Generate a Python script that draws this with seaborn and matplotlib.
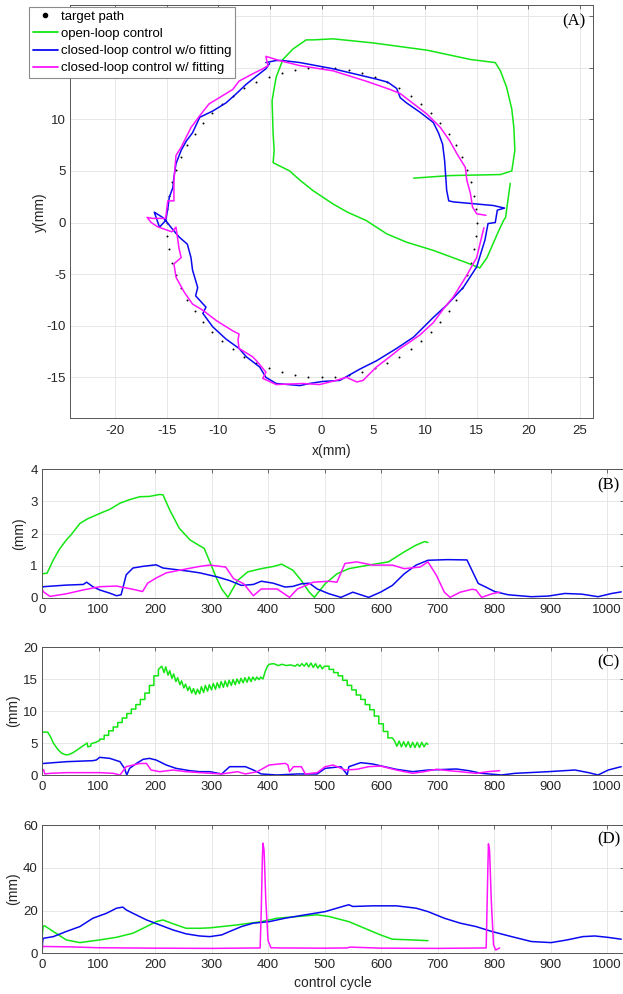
import matplotlib
matplotlib.use("Agg")
import matplotlib.pyplot as plt
from matplotlib.lines import Line2D
import numpy as np
import pandas as pd
import seaborn as sns

# ---------------- data : panel A (trajectories, mm) ----------------
target_x = [15.00, 14.94, 14.77, 14.49, 14.10, 13.59, 12.99, 12.29, 11.49, 10.61, 9.64, 8.60, 7.50, 6.34, 5.13, 3.88, 2.60, 1.31,
            0.00, -1.31, -2.60, -3.88, -5.13, -6.34, -7.50, -8.60, -9.64, -10.61, -11.49, -12.29, -12.99, -13.59, -14.10, -14.49, -14.77, -14.94,
            -15.00, -14.94, -14.77, -14.49, -14.10, -13.59, -12.99, -12.29, -11.49, -10.61, -9.64, -8.60, -7.50, -6.34, -5.13, -3.88, -2.60, -1.31,
            0.00, 1.31, 2.60, 3.88, 5.13, 6.34, 7.50, 8.60, 9.64, 10.61, 11.49, 12.29, 12.99, 13.59, 14.10, 14.49, 14.77, 14.94]
target_y = [0.00, 1.31, 2.60, 3.88, 5.13, 6.34, 7.50, 8.60, 9.64, 10.61, 11.49, 12.29, 12.99, 13.59, 14.10, 14.49, 14.77, 14.94,
            15.00, 14.94, 14.77, 14.49, 14.10, 13.59, 12.99, 12.29, 11.49, 10.61, 9.64, 8.60, 7.50, 6.34, 5.13, 3.88, 2.60, 1.31,
            0.00, -1.31, -2.60, -3.88, -5.13, -6.34, -7.50, -8.60, -9.64, -10.61, -11.49, -12.29, -12.99, -13.59, -14.10, -14.49, -14.77, -14.94,
            -15.00, -14.94, -14.77, -14.49, -14.10, -13.59, -12.99, -12.29, -11.49, -10.61, -9.64, -8.60, -7.50, -6.34, -5.13, -3.88, -2.60, -1.31]

open_x = [18.25, 17.8, 17.6, 17.0, 16.0, 15.3, 14.05, 10.8, 8.2, 6.3, 4.3, 2.5, 1.1, -0.85, -2.1, -3.1, -4.7, -4.6, -4.7,
          -4.8, -4.6, -4.4, -3.75, -2.8, -1.5, -0.8, 1.1, 5.0, 10.2, 14.4, 16.8, 17.3, 17.9, 18.4, 18.6, 18.7, 18.4, 17.3, 12.4, 8.9]
open_y = [3.8, 0.5, 0.2, -1.1, -3.4, -4.4, -3.9, -2.7, -1.9, -1.1, 0.2, 1.0, 1.8, 3.1, 4.1, 5.0, 5.8, 7.0, 8.6,
          11.8, 13.0, 14.1, 15.8, 16.8, 17.7, 17.7, 17.8, 17.4, 16.7, 15.8, 15.5, 14.7, 13.1, 11.0, 9.2, 7.0, 5.0, 4.65, 4.55, 4.3]

nofit_x = [-5.4, -4.4, -3.8, -2.1, 1.1, 5.3, 6.4, 7.25, 7.6, 8.2, 9.5, 10.8, 11.3, 11.7, 11.9, 12.1, 12.3, 12.75, 16.6, 17.7,
           17.0, 16.8, 16.1, 15.8, 15.0, 13.7, 12.1, 10.8, 8.9, 7.25, 5.3, 3.7, 1.75, 0.1, -1.2, -2.1, -4.4, -5.4, -6.0, -7.3,
           -8.0, -9.25, -10.55, -11.5, -11.2, -12.2, -12.0, -12.5, -12.65, -13.0, -13.8, -14.6, -15.1, -15.7, -16.2, -15.4, -15.1,
           -14.9, -14.75, -14.4, -14.3, -14.1, -13.6, -13.1, -12.5, -11.8, -10.55, -9.25, -8.3, -7.3, -6.3, -5.4, -5.05]
nofit_y = [15.5, 15.7, 15.7, 15.5, 14.9, 13.9, 13.6, 13.0, 12.1, 11.6, 10.7, 9.7, 8.7, 7.6, 6.0, 3.1, 2.1, 2.0, 1.65, 1.4,
           1.2, 0.0, -0.1, -1.7, -4.3, -6.3, -8.0, -9.2, -11.1, -12.2, -13.4, -14.2, -15.3, -15.4, -15.6, -15.8, -15.6, -15.0, -14.0, -13.0,
           -12.2, -11.3, -10.1, -8.8, -8.2, -7.1, -6.3, -4.6, -3.4, -2.1, -1.4, -0.45, 0.2, -0.45, 1.0, 0.5, 0.2,
           1.3, 2.45, 3.4, 4.4, 5.7, 7.0, 7.9, 8.7, 10.2, 10.8, 11.6, 12.45, 13.4, 14.2, 14.9, 15.4]

fit_x = [15.7, 15.0, 14.05, 12.75, 11.8, 10.8, 9.5, 8.5, 7.6, 6.6, 5.3, 4.7, 4.0, 3.4, 2.4, 1.4, -0.2, -1.8, -4.4, -5.7,
         -5.4, -6.3, -6.7, -8.0, -8.1, -8.0, -8.6, -10.2, -11.5, -12.5, -13.3, -14.1, -14.3, -13.6, -13.8, -14.1, -14.5, -15.9,
         -16.5, -16.9, -16.4, -15.1, -14.9, -14.3, -14.3, -14.1, -13.6, -13.3, -12.65, -11.8, -10.9, -9.9, -8.6, -8.0, -6.7, -5.7,
         -5.2, -5.4, -4.1, -2.1, 1.1, 4.3, 6.6, 7.6, 8.9, 10.2, 11.5, 12.4, 13.1, 13.9, 14.05, 14.4, 14.6, 15.0, 15.9]
fit_y = [-0.5, -3.4, -5.1, -7.2, -8.35, -9.7, -10.9, -11.6, -12.2, -13.0, -14.0, -14.6, -15.3, -15.45, -15.0, -15.3, -15.7, -15.6, -15.7, -15.1,
         -14.5, -13.4, -13.0, -12.2, -11.4, -10.8, -10.5, -9.5, -8.5, -7.9, -6.75, -5.3, -4.0, -3.4, -2.55, -0.45, -0.9, -0.4,
         0.0, 0.5, 0.4, 0.4, 2.1, 2.1, 4.1, 6.5, 7.3, 7.9, 9.2, 10.35, 11.5, 12.1, 12.9, 13.7, 14.4, 14.9,
         15.2, 16.1, 15.7, 15.2, 14.7, 13.7, 12.9, 12.5, 11.5, 10.5, 9.2, 7.9, 6.65, 5.35, 4.1, 2.8, 1.5, 0.85, 0.7]

# ---------------- data : panel B ----------------
b_open_c = [0, 9, 20, 30, 43, 51, 67, 80, 102, 120, 138, 155, 173, 190, 208, 214, 226, 243, 262, 279, 287, 297, 308, 318, 329,
            346, 364, 388, 410, 424, 444, 459, 473, 482, 501, 522, 543, 578, 613, 641, 662, 677, 683]
b_open_v = [0.75, 0.77, 1.18, 1.49, 1.8, 1.95, 2.31, 2.45, 2.62, 2.75, 2.94, 3.05, 3.14, 3.15, 3.21, 3.2, 2.73, 2.16, 1.8, 1.62, 1.54, 1.12, 0.65, 0.28, 0.02,
            0.54, 0.81, 0.91, 0.98, 1.05, 0.86, 0.54, 0.18, 0.02, 0.44, 0.75, 0.91, 1.02, 1.12, 1.43, 1.64, 1.75, 1.72]
b_nofit_c = [0, 2, 43, 73, 79, 90, 102, 120, 132, 140, 149, 161, 178, 202, 214, 237, 260, 279, 311, 332, 353, 374, 388, 409, 430, 444,
             459, 473, 487, 508, 529, 550, 578, 599, 620, 641, 662, 683, 718, 752, 772, 784, 801, 825, 866, 896, 925, 955, 984, 1008, 1025]
b_nofit_v = [0.3, 0.35, 0.4, 0.42, 0.49, 0.35, 0.25, 0.15, 0.07, 0.1, 0.72, 0.93, 0.98, 1.03, 0.93, 0.88, 0.83, 0.78, 0.65, 0.54, 0.39, 0.42, 0.52, 0.46, 0.34, 0.36,
             0.44, 0.46, 0.28, 0.13, 0.02, 0.18, 0.02, 0.18, 0.39, 0.75, 1.02, 1.17, 1.19, 1.18, 0.45, 0.35, 0.2, 0.1, 0.04, 0.06, 0.14, 0.12, 0.04, 0.14, 0.19]
b_fit_c = [0, 2, 14, 43, 73, 102, 132, 161, 178, 187, 202, 220, 249, 279, 297, 325, 339, 357, 374, 388, 416, 438, 452, 480, 508,
           522, 536, 557, 585, 620, 641, 669, 683, 698, 712, 722, 740, 761, 768, 778, 796, 810]
b_fit_v = [0.3, 0.2, 0.05, 0.13, 0.25, 0.35, 0.37, 0.27, 0.2, 0.46, 0.62, 0.78, 0.88, 0.98, 1.02, 0.96, 0.6, 0.44, 0.07, 0.28, 0.28, 0.02, 0.28, 0.49, 0.52,
           0.49, 1.07, 1.12, 1.02, 1.02, 0.91, 0.96, 1.12, 0.7, 0.18, 0.02, 0.18, 0.27, 0.25, 0.02, 0.13, 0.18]

# ---------------- data : panel C ----------------
c_open_c = [0, 10, 15, 20, 28, 35, 42, 48, 55, 62, 70, 80, 81, 86, 87, 95, 102,
            102, 110, 110, 118, 118, 126, 126, 134, 134, 142, 142, 150, 150, 158, 158, 166, 166, 174, 174, 182, 182, 190, 190, 198, 198, 206, 206, 212,
            216, 219, 223, 226, 230, 233, 237, 240, 244, 247, 251, 254, 258, 261, 265, 268, 272, 275,
            279, 282, 286, 289, 293, 296, 300, 303, 307, 310, 314, 317, 321, 324, 328, 331, 335, 338, 342, 345, 349, 352, 356, 359,
            363, 366, 370, 373, 377, 380, 384, 387, 391, 395, 399, 402,
            410, 418, 425, 432, 440, 448, 452, 456, 460, 464, 468, 472, 476, 480, 484, 488, 492, 496, 500,
            508, 508, 516, 516, 524, 524, 532, 532, 540, 540, 548, 548, 556, 556, 564, 564, 572, 572, 580, 580, 588, 588, 596, 596, 604, 604, 612, 612, 620,
            624, 628, 632, 636, 640, 644, 648, 652, 656, 660, 664, 668, 672, 676, 680, 683]
c_open_v = [6.7, 6.7, 6.0, 5.0, 4.0, 3.4, 3.15, 3.2, 3.5, 3.9, 4.4, 5.0, 4.4, 4.5, 4.9, 5.1, 5.4,
            5.6, 5.6, 6.2, 6.2, 6.9, 6.9, 7.5, 7.5, 8.2, 8.2, 8.9, 8.9, 9.6, 9.6, 10.3, 10.3, 11.0, 11.0, 11.8, 11.8, 12.8, 12.8, 14.0, 14.0, 15.5, 15.5, 16.5, 17.0,
            16.0, 16.9, 15.6, 16.3, 15.1, 15.8, 14.6, 15.2, 14.1, 14.7, 13.6, 14.2, 13.2, 13.8, 12.8, 13.5, 12.6, 13.4,
            12.7, 13.8, 12.9, 14.0, 13.1, 14.1, 13.3, 14.3, 13.4, 14.4, 13.6, 14.6, 13.7, 14.7, 13.8, 14.8, 14.0, 14.9, 14.1, 15.0, 14.3, 15.1, 14.4, 15.2,
            14.5, 15.3, 14.6, 15.3, 14.8, 15.3, 14.9, 15.3, 15.0, 16.2, 17.0, 17.3,
            17.4, 17.1, 17.3, 17.1, 17.2, 17.0, 17.3, 17.0, 17.4, 17.0, 17.5, 16.9, 17.5, 16.8, 17.4, 16.7, 17.2, 16.6, 17.0,
            17.0, 16.5, 16.5, 16.0, 16.0, 15.5, 15.5, 14.8, 14.8, 14.0, 14.0, 13.3, 13.3, 12.5, 12.5, 11.8, 11.8, 11.0, 11.0, 10.2, 10.2, 9.2, 9.2, 8.0, 8.0, 6.8, 6.8, 5.8, 5.8,
            5.3, 4.5, 5.3, 4.4, 5.2, 4.4, 5.2, 4.3, 5.1, 4.3, 5.1, 4.3, 5.1, 4.4, 5.0, 4.8]
c_nofit_c = [0, 2, 43, 90, 96, 102, 120, 138, 146, 150, 155, 167, 179, 190, 202, 220, 237, 261, 279, 297, 318, 332, 360, 374, 388, 416,
             452, 487, 501, 529, 538, 540, 543, 564, 585, 606, 627, 656, 683, 719, 733, 755, 778, 813, 837, 896, 943, 967, 984, 1002, 1025]
c_nofit_v = [1.8, 1.8, 2.08, 2.24, 2.34, 2.76, 2.6, 2.08, 1.04, 0.0, 1.04, 1.8, 2.45, 2.6, 2.34, 1.56, 1.04, 0.68, 0.52, 0.52, 0.16, 1.3, 1.3, 0.78, 0.16, 0.0,
             0.16, 0.16, 1.04, 1.3, 0.3, 0.0, 1.3, 1.93, 1.72, 1.3, 0.89, 0.52, 0.78, 0.89, 0.94, 0.68, 0.26, 0.0, 0.26, 0.52, 0.78, 0.37, 0.0, 0.78, 1.3]
c_fit_c = [0, 3, 5, 14, 43, 102, 126, 138, 149, 173, 185, 193, 208, 232, 255, 279, 318, 346, 360, 381, 402, 430, 435, 438, 445, 459,
           466, 487, 501, 515, 522, 536, 557, 578, 599, 627, 656, 676, 698, 719, 740, 768, 789, 810]
c_fit_v = [0.9, 0.8, 0.16, 0.26, 0.37, 0.37, 0.26, 0.0, 1.3, 1.8, 1.8, 0.78, 0.52, 0.78, 0.52, 0.37, 0.16, 0.52, 0.16, 0.52, 1.56, 1.82, 1.6, 0.52, 1.3, 1.3,
           0.16, 0.37, 1.3, 1.56, 1.3, 0.78, 0.89, 1.3, 1.4, 0.78, 0.26, 0.52, 0.89, 0.68, 0.52, 0.26, 0.52, 0.68]

# ---------------- data : panel D ----------------
d_open_c = [0, 2, 5, 20, 43, 67, 102, 132, 161, 185, 202, 214, 232, 255, 279, 297, 346, 388, 416, 452, 487, 508, 543, 571, 599, 620, 656, 683]
d_open_v = [6.5, 12.8, 12.8, 10.2, 6.25, 5.0, 6.25, 7.5, 9.4, 12.5, 14.8, 15.6, 13.8, 11.7, 11.7, 11.9, 13.3, 14.8, 16.4, 17.2, 18.0, 17.2, 14.8, 11.7, 8.6, 6.6, 6.25, 5.9]
d_nofit_c = [0, 1, 2, 20, 43, 67, 90, 114, 132, 143, 149, 161, 185, 208, 232, 255, 279, 297, 318, 332, 353, 374, 402, 430, 466, 501,
             536, 543, 550, 585, 627, 662, 683, 712, 740, 768, 796, 831, 866, 901, 929, 957, 978, 1000, 1025]
d_nofit_v = [0.0, 5.0, 7.0, 7.8, 10.2, 12.5, 16.4, 18.7, 21.1, 21.6, 20.3, 18.7, 15.6, 13.3, 10.9, 9.1, 8.1, 7.8, 8.6, 10.2, 12.5, 14.1, 14.8, 16.4, 18.0, 19.5,
             22.2, 22.7, 21.9, 22.2, 22.2, 21.1, 19.5, 16.4, 14.1, 12.5, 10.2, 7.8, 5.5, 5.0, 6.25, 7.8, 8.1, 7.5, 6.6]
d_fit_c = [0, 1, 50, 100, 200, 300, 386, 388, 390, 391, 393, 396, 400, 405, 420, 500, 540, 545, 600, 700,
           786, 787, 789, 790, 792, 795, 799, 803, 806, 810]
d_fit_v = [0.0, 3.2, 3.0, 2.6, 2.4, 2.3, 2.5, 20.0, 45.0, 51.5, 48.0, 25.0, 6.0, 2.6, 2.5, 2.4, 2.5, 2.9, 2.4, 2.3,
           2.5, 15.0, 40.0, 51.2, 48.0, 25.0, 4.0, 1.5, 2.0, 2.5]

labels = ["target path", "open-loop control", "closed-loop control w/o fitting", "closed-loop control w/ fitting"]
C_OPEN, C_NOFIT, C_FIT = "#14e614", "#0a0af0", "#ff14ff"

# ---------------- style ----------------
sns.set_theme(style="white")
plt.rcParams["font.family"] = ["Liberation Sans", "DejaVu Sans"]
plt.rcParams["axes.unicode_minus"] = False
TXT = "#262626"

W, H = 623, 994
fig = plt.figure(figsize=(W / 100, H / 100), dpi=100)


def px_axes(left, top, right, bottom):
    return fig.add_axes([left / W, 1 - bottom / H, (right - left) / W, (bottom - top) / H])


def style(ax):
    ax.grid(True, color="#e3e3e3", lw=0.6)
    ax.set_axisbelow(True)
    for s in ax.spines.values():
        s.set_visible(True)
        s.set_color("#555555")
        s.set_linewidth(0.7)
    ax.tick_params(direction="in", length=3, width=0.6, top=True, right=True,
                   colors="#555555", labelcolor=TXT, labelsize=9.5, pad=3)


LW = 1.1

# ---- panel A ----
axA = px_axes(70.3, 5.3, 593, 418.3)
sns.scatterplot(x=target_x, y=target_y, ax=axA, color="black", s=2, linewidth=0, zorder=2)
for xs, ys, col in [(open_x, open_y, C_OPEN), (nofit_x, nofit_y, C_NOFIT), (fit_x, fit_y, C_FIT)]:
    sns.lineplot(x=xs, y=ys, ax=axA, sort=False, estimator=None, color=col, lw=LW, zorder=3)
axA.set_xlim(-24.33, 26.26)
axA.set_ylim(-18.97, 21.05)
axA.set_xticks(range(-20, 26, 5))
yt_A = list(range(-15, 21, 5))
axA.set_yticks(yt_A)
# labels for 15 and 20 sit behind the legend box in the reference
axA.set_yticklabels([str(v) if v < 15 else "" for v in yt_A])
style(axA)
axA.tick_params(axis="x", pad=5)
axA.set_xlabel("x(mm)", fontsize=10, color=TXT)
axA.set_ylabel("y(mm)", fontsize=10, color=TXT)
axA.xaxis.set_label_coords(0.50, -0.062)
axA.yaxis.set_label_coords(-0.0446, 0.50)
axA.text(0.964, 0.962, "(A)", transform=axA.transAxes, ha="center", va="center",
         fontsize=12, family="Liberation Serif", color="black")

handles = [Line2D([], [], ls="", marker=".", color="black", markersize=6),
           Line2D([], [], color=C_OPEN, lw=1.3),
           Line2D([], [], color=C_NOFIT, lw=1.3),
           Line2D([], [], color=C_FIT, lw=1.3)]
leg = fig.legend(handles, labels, loc="upper left", bbox_to_anchor=(29 / W, 1 - 6.5 / H),
                 fontsize=9.5, frameon=True, fancybox=False, framealpha=1.0, borderpad=0.3, labelspacing=0.38,
                 handlelength=1.9, handletextpad=0.2, borderaxespad=0)
leg.get_frame().set_edgecolor("#8c8c8c")
leg.get_frame().set_linewidth(0.8)
for t in leg.get_texts():
    t.set_color("black")

# ---- panels B, C, D ----
panels = [
    ("(B)", 469, 598, (0, 4), [0, 1, 2, 3, 4], (b_open_c, b_open_v), (b_nofit_c, b_nofit_v), (b_fit_c, b_fit_v), 0.876, -0.0275),
    ("(C)", 647, 775, (0, 20), [0, 5, 10, 15, 20], (c_open_c, c_open_v), (c_nofit_c, c_nofit_v), (c_fit_c, c_fit_v), 0.879, -0.038),
    ("(D)", 825, 953.3, (0, 60), [0, 20, 40, 60], (d_open_c, d_open_v), (d_nofit_c, d_nofit_v), (d_fit_c, d_fit_v), 0.891, -0.038),
]
for tag, top, bot, ylim, yt, op, nf, ft, ty, ylx in panels:
    ax = px_axes(42, top, 623.5, bot)
    for (cx, vy), col in [(op, C_OPEN), (nf, C_NOFIT), (ft, C_FIT)]:
        sns.lineplot(x=cx, y=vy, ax=ax, sort=False, estimator=None, color=col, lw=LW)
    ax.set_xlim(0, 1029)
    ax.set_ylim(*ylim)
    ax.set_xticks(range(0, 1001, 100))
    ax.set_yticks(yt)
    style(ax)
    ax.tick_params(axis="x", pad=4)
    ax.set_ylabel("(mm)", fontsize=10, color=TXT)
    ax.yaxis.set_label_coords(ylx, 0.50)
    ax.text(0.974, ty, tag, transform=ax.transAxes, ha="center", va="center",
            fontsize=12, family="Liberation Serif", color="black")
    if tag == "(D)":
        ax.set_xlabel("control cycle", fontsize=10, color=TXT)
        ax.xaxis.set_label_coords(0.50, -0.177)

fig.savefig("out.png", dpi=100)
